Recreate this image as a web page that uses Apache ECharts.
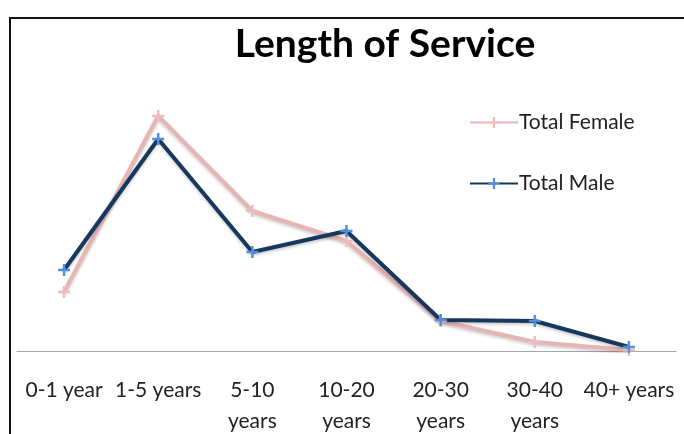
<!DOCTYPE html>
<html>
<head>
<meta charset="utf-8">
<script src="https://cdn.jsdelivr.net/npm/echarts@6/dist/echarts.min.js"></script>
<style>
html, body { margin: 0; padding: 0; background: #fff; }
#chart { width: 684px; height: 434px; }
</style>
</head>
<body>
<div id="chart"></div>
<script>
// categories & values (hidden y axis, arbitrary units)
const categories = ['0-1 year', '1-5 years', '5-10\nyears', '10-20\nyears', '20-30\nyears', '30-40\nyears', '40+ years'];
const totalFemale = [59, 235, 140, 110, 30, 9, 1];
const totalMale = [81, 212, 99, 120, 31, 30, 4];

const plus = 'path://M4,0h2v4h4v2h-4v4h-2v-4h-4v-2h4z';

const chart = echarts.init(document.getElementById('chart'));
chart.setOption({
    backgroundColor: '#fff',
    animation: false,
    title: {
        text: 'Length of Service',
        left: 380,
        top: 20,
        textAlign: 'center',
        textStyle: { fontFamily: 'Lato', fontWeight: 'bold', fontSize: 39, color: '#000' }
    },
    legend: {
        orient: 'vertical',
        left: 464,
        top: 107,
        itemGap: 40,
        itemWidth: 48,
        itemHeight: 14,
        textStyle: { fontFamily: 'Lato', fontSize: 21, color: '#222', padding: [0, 0, 0, -4] },
        data: ['Total Female', 'Total Male']
    },
    grid: { left: 17, right: 8, top: 51, bottom: 83, outerBoundsMode: 'none' },
    xAxis: {
        type: 'category',
        data: categories,
        axisLine: { lineStyle: { color: '#a6a6a6', width: 1 } },
        axisTick: { show: false },
        axisLabel: {
            interval: 0,
            margin: 24,
            fontFamily: 'Lato',
            fontSize: 21,
            lineHeight: 31,
            color: '#222',
            verticalAlign: 'top'
        }
    },
    yAxis: {
        type: 'value',
        min: 0,
        max: 300,
        show: false
    },
    series: [
        {
            name: 'Total Female',
            type: 'line',
            data: totalFemale,
            symbol: plus,
            symbolSize: 12,
            lineStyle: { color: '#e8b5b5', width: 4, shadowColor: 'rgba(0,0,0,0.2)', shadowBlur: 3, shadowOffsetY: 2 },
            itemStyle: { color: '#edbcbc' }
        },
        {
            name: 'Total Male',
            type: 'line',
            data: totalMale,
            symbol: plus,
            symbolSize: 12,
            lineStyle: { color: '#17375e', width: 4, shadowColor: 'rgba(0,0,0,0.2)', shadowBlur: 3, shadowOffsetY: 2 },
            itemStyle: { color: '#4f8ee0' }
        }
    ],
    graphic: [
        {
            type: 'rect',
            shape: { x: 10, y: 18, width: 700, height: 450 },
            style: { fill: 'none', stroke: '#111', lineWidth: 2 },
            silent: true
        }
    ]
});
</script>
</body>
</html>
